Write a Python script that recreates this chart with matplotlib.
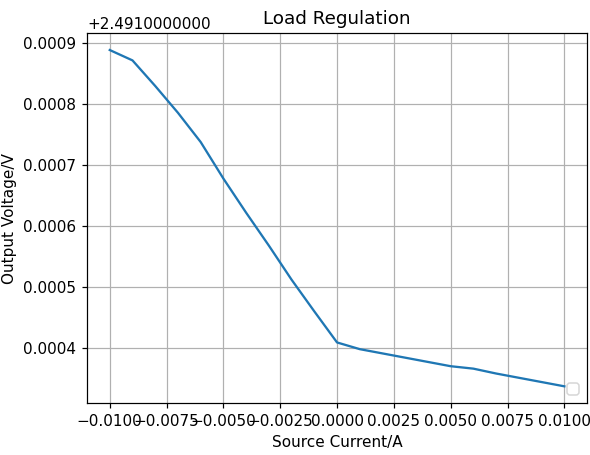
import matplotlib
matplotlib.use('Agg')
import matplotlib.pyplot as plt
import matplotlib.ticker as ticker
import numpy as np

# source current (A) and measured output voltage above 2.491 V
current = [-0.010, -0.009, -0.008, -0.007, -0.006, -0.005, -0.004, -0.003, -0.002, -0.001,
           0.000, 0.001, 0.002, 0.003, 0.004, 0.005, 0.006, 0.007, 0.008, 0.009, 0.010]
voltage_delta = [0.000889, 0.000872, 0.000830, 0.000786, 0.000738, 0.000678, 0.000622,
                 0.000568, 0.000512, 0.000460, 0.000409, 0.000398, 0.000391, 0.000384,
                 0.000377, 0.000370, 0.000366, 0.000358, 0.000351, 0.000344, 0.000337]
base_voltage = 2.491


class LongOffsetFormatter(ticker.ScalarFormatter):
    # old style offset text, e.g. +2.4910000000
    def get_offset(self):
        if not self.offset:
            return ''
        return '%+1.10f' % self.offset


voltage = np.array(voltage_delta) + base_voltage

fig = plt.figure(figsize=(590 / 110, 455 / 110), dpi=110)
ax = fig.add_subplot(111)
fig.subplots_adjust(left=0.1475, right=0.995, top=0.927, bottom=0.114)
ax.plot(current, voltage)
ax.yaxis.set_major_formatter(LongOffsetFormatter())
ax.set_title('Load Regulation')
ax.set_xlabel('Source Current/A')
ax.set_ylabel('Output Voltage/V')
ax.grid(True)
ax.legend(loc='lower right')
fig.savefig('out.png', dpi=110)
